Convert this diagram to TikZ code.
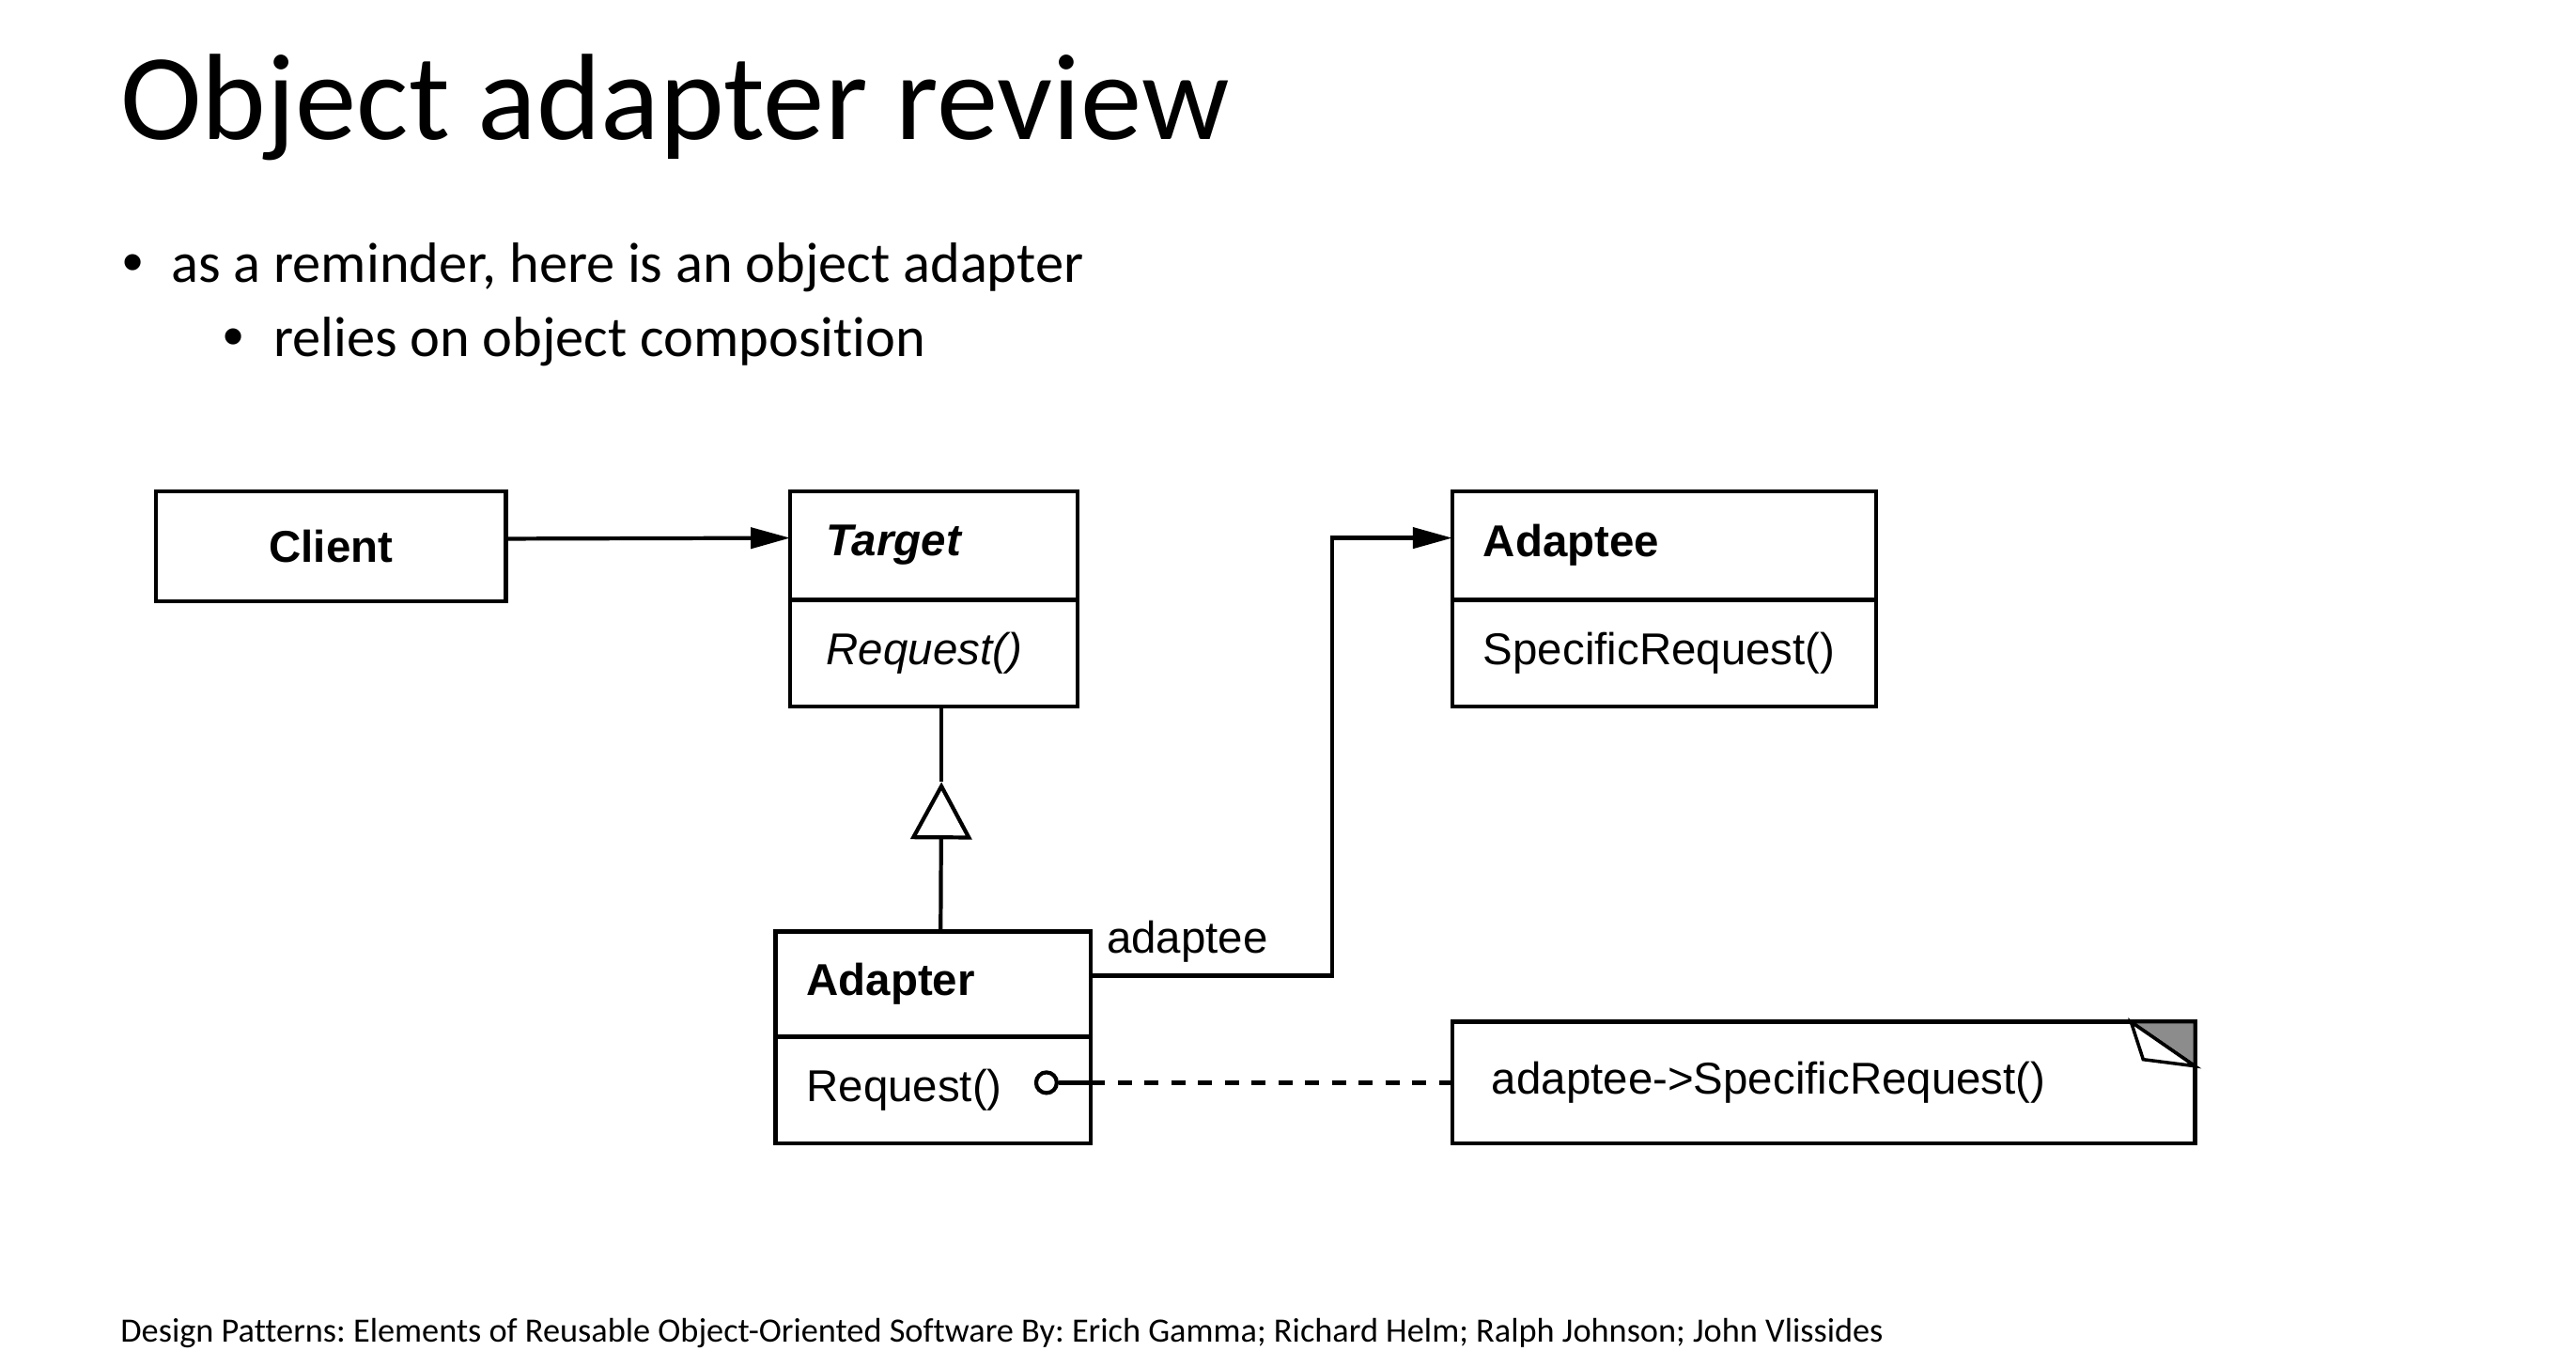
\documentclass[tikz,border=0pt]{standalone}
\usepackage{fontspec}
\setmainfont{Carlito}[Ligatures=NoCommon]
\newfontfamily\umlfont{Liberation Sans}
\usetikzlibrary{arrows.meta,calc}
\def\umlsize{\umlfont\fontsize{13.5}{15}\selectfont}
\def\dotsize{\umlfont\fontsize{18}{20}\selectfont}
\frenchspacing

\tikzset{
	compart/.style={draw, line width=1.3pt, inner xsep=0.33cm, inner ysep=0pt, outer sep=0pt, anchor=north west, align=flush left, font=\umlsize},
	assoc/.style={line width=1.2pt, -{Triangle[length=0.42cm, width=0.22cm]}},
	slidetext/.style={anchor=base west, inner sep=0pt}
}

\begin{document}
\begin{tikzpicture}
			%%%%% START %%%%%
			\useasboundingbox (0, 0) rectangle (27.42, -14.38);
			
			\node[slidetext, font=\fontsize{37.2}{40}\selectfont] (title) at (1.277, -1.486) {Object adapter review};
			
			\node[slidetext, font=\dotsize] (dotA) at (1.30, -3.01) {•};
			\node[slidetext, font=\fontsize{17.2}{20}\selectfont] (itemA) at (1.819, -3.01) {as a reminder, here is an object adapter};
			\node[slidetext, font=\dotsize] (dotB) at (2.37, -3.80) {•};
			\node[slidetext, font=\fontsize{17.2}{20}\selectfont] (itemB) at (2.903, -3.80) {relies on object composition};
			
			\node[slidetext, font=\fontsize{10.33}{12}\selectfont] (source) at (1.277, -14.28) {Design Patterns: Elements of Reusable Object-Oriented Software By: Erich Gamma; Richard Helm; Ralph Johnson; John Vlissides};
			
			% classes
			\node[compart, align=center, minimum width=3.725cm, minimum height=1.171cm] (client) at (1.661, -5.229) {\bfseries Client};
			
			\node[compart, inner xsep=0.385cm, text width=2.29cm, minimum height=1.154cm] (target) at (8.411, -5.229) {\bfseries\itshape Target};
			\node[compart, inner xsep=0.385cm, text width=2.29cm, minimum height=1.136cm] (targetop) at (target.south west) {\itshape Request()};
			
			\node[compart, text width=3.851cm, minimum height=1.154cm] (adaptee) at (15.459, -5.229) {\bfseries Adaptee};
			\node[compart, text width=3.851cm, minimum height=1.136cm] (adapteeop) at (adaptee.south west) {SpecificRequest()};
			
			\node[compart, text width=2.697cm, minimum height=1.119cm] (adapter) at (8.254, -9.915) {\bfseries Adapter};
			\node[compart, text width=2.697cm, minimum height=1.137cm] (adapterop) at (adapter.south west) {Request()};
			
			% note with folded corner
			\node[compart, inner xsep=0.42cm, text width=7.064cm, minimum height=1.294cm] (note) at (15.459, -10.877) {adaptee->SpecificRequest()};
			\draw[line width=1pt, fill=black!45] ([xshift=-0.68cm]note.north east) -- (note.north east) -- ([yshift=-0.47cm]note.north east) -- cycle;
			\draw[line width=1pt, fill=white] ([xshift=-0.68cm]note.north east) -- ([xshift=-0.55cm, yshift=-0.4cm]note.north east) -- ([yshift=-0.47cm]note.north east) -- cycle;
			
			% connectors
			\draw[assoc] ([yshift=0.08cm]client.east) -- ([yshift=0.08cm]target.west);
			
			\coordinate (gentip) at ($(targetop.south)+(0.08,-0.805)$);
			\draw[line width=1.2pt] ([xshift=0.08cm]targetop.south) -- (gentip);
			\draw[line width=1.2pt, -{Triangle[open, length=0.61cm, width=0.65cm, fill=white]}] ([xshift=0.08cm]adapter.north) -- (gentip);
			
			\coordinate (bend) at (14.182, 0);
			\draw[assoc] ([yshift=0.09cm]adapter.east) -| ([yshift=0.08cm]bend |- adaptee.west) node[pos=0.2, above, font=\umlsize] (rolename) {adaptee} -- ([yshift=0.08cm]adaptee.west);
			
			\node[draw, circle, line width=1.2pt, inner sep=0pt, minimum size=0.22cm] (knob) at ([xshift=-0.472cm]adapterop.east |- note.west) {};
			\draw[line width=1.2pt] (knob) -- (adapterop.east |- note.west);
			\draw[line width=1.5pt, dash pattern=on 0.15cm off 0.135cm] (adapterop.east |- note.west) -- (note.west);
			
			%%%%% END %%%%%
\end{tikzpicture}
\end{document}
